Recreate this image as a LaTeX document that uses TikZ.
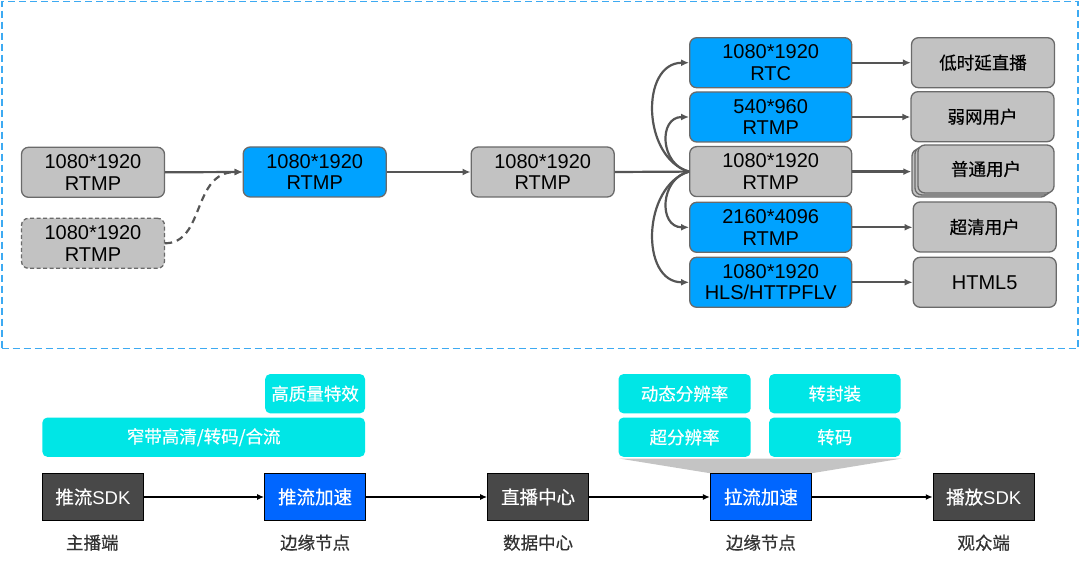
\documentclass[tikz,border=0pt]{standalone}
\usepackage{fontspec}
\setmainfont{Liberation Sans}
\newfontfamily\cjk{Noto Sans CJK SC}
\newfontfamily\cjkm[FakeBold=0.5]{Noto Sans CJK SC}
\usetikzlibrary{arrows.meta}
\definecolor{gfill}{HTML}{C2C2C2}
\definecolor{gline}{HTML}{6A6A6A}
\definecolor{bfill}{HTML}{00A2FF}
\definecolor{arr}{HTML}{555555}
\definecolor{cyanb}{HTML}{00E6E6}
\definecolor{darkb}{HTML}{484848}
\definecolor{blueb}{HTML}{0066FF}
\definecolor{lbl}{HTML}{333333}
\definecolor{frame}{HTML}{3DAAF2}
\definecolor{trap}{HTML}{C4C4C4}
\tikzset{
  topbox/.style={draw=gline, line width=1.3pt, rounded corners=7pt, minimum width=143pt, minimum height=50pt, inner sep=0pt, align=center, font=\fontsize{20}{21.5}\selectfont},
  graybox/.style={topbox, fill=gfill},
  bluebox/.style={topbox, fill=bfill},
  midbox/.style={minimum width=162pt},
  outbox/.style={graybox, font=\fontsize{17.5}{20}\selectfont\cjkm},
  conn/.style={draw=arr, line width=2.2pt, -{Latex[length=8pt,width=7pt]}},
  plain/.style={draw=arr, line width=2.2pt},
  cyanbox/.style={fill=cyanb, rounded corners=5pt, inner sep=0pt, minimum height=39.3pt, text=white, font=\fontsize{17.5}{20}\selectfont\cjkm},
  flowbox/.style={draw=black, line width=0.9pt, inner sep=0pt, minimum width=101pt, minimum height=47.4pt, text=white, font=\fontsize{18.5}{20}\selectfont},
  darkbox/.style={flowbox, fill=darkb},
  bluefbox/.style={flowbox, fill=blueb},
  flowarr/.style={draw=black, line width=1.4pt, -{Latex[length=7pt,width=6pt]}},
  lblnode/.style={text=lbl, font=\fontsize{17.5}{20}\selectfont\cjkm},
}
\begin{document}
\begin{tikzpicture}[x=1pt,y=-1pt]
\useasboundingbox (0,0) rectangle (1080,564);
% frame
\node[draw=frame, line width=1.6pt, dash pattern=on 7pt off 4pt, minimum width=1076pt, minimum height=347pt, inner sep=0pt] (frm) at (539.7,175.2) {};
% left part
\node[graybox] (l1) at (93,172.3) {1080*1920\\RTMP};
\node[graybox, dash pattern=on 4pt off 2.5pt] (l2) at (93,243.3) {1080*1920\\RTMP};
\node[bluebox] (b1) at (314.7,172) {1080*1920\\RTMP};
\node[graybox] (c1) at (542.7,172) {1080*1920\\RTMP};
% middle column
\node[bluebox, midbox] (m1) at (770.7,62.7) {1080*1920\\RTC};
\node[bluebox, midbox] (m2) at (770.7,117) {540*960\\RTMP};
\node[graybox, midbox] (m3) at (770.7,171.6) {1080*1920\\RTMP};
\node[bluebox, midbox] (m4) at (770.7,227.3) {2160*4096\\RTMP};
\node[bluebox, midbox] (m5) at (770.7,282.3) {1080*1920\\HLS/HTTPFLV};
% output column
\node[outbox] (o1) at (983,62.7) {低时延直播};
\node[outbox] (o2) at (982.5,116.7) {弱网用户};
\node[outbox, minimum width=136pt, minimum height=48pt] (o3c) at (980,173) {};
\node[outbox, minimum width=136pt, minimum height=48pt] (o3b) at (983,171) {};
\node[outbox, minimum width=136pt, minimum height=48pt] (o3) at (986,169) {普通用户};
\node[outbox] (o4) at (984.7,227) {超清用户};
\node[outbox, font=\fontsize{20}{22}\selectfont] (o5) at (984.7,282.3) {HTML5};
% connectors
\draw[conn] (l1.east) -- (b1.west);
\draw[conn, dash pattern=on 7pt off 5pt] (l2.east) .. controls (205,243) and (192,172) .. (b1.west);
\draw[conn] (b1.east) -- (c1.west);
\coordinate (sp) at (m3.west);
\draw[plain] (c1.east) -- (sp);
\draw[conn] (sp) .. controls (642,158) and (640,63) .. (m1.west);
\draw[conn] (sp) .. controls (660,165) and (658,117) .. (m2.west);
\draw[conn] (sp) .. controls (660,178) and (658,227.3) .. (m4.west);
\draw[conn] (sp) .. controls (642,186) and (640,282.3) .. (m5.west);
\draw[conn] (m1.east) -- (m1.east -| o1.west);
\draw[conn] (m2.east) -- (m2.east -| o2.west);
\draw[conn] (m3.east) -- (m3.east -| o3c.west);
\draw[conn] (m4.east) -- (m4.east -| o4.west);
\draw[conn] (m5.east) -- (m5.east -| o5.west);
% bottom part
\fill[trap] (619,458.5) -- (902,458.5) -- (811.3,473.3) -- (710.5,473.3) -- cycle;
\node[cyanbox, minimum width=99.8pt] (q1) at (315.1,393.7) {高质量特效};
\node[cyanbox, minimum width=322.6pt] (q2) at (203.7,437.2) {窄带高清/转码/合流};
\node[cyanbox, minimum width=132.2pt] (q3) at (684.6,393.7) {动态分辨率};
\node[cyanbox, minimum width=132.2pt] (q4) at (684.6,437.2) {超分辨率};
\node[cyanbox, minimum width=131.5pt] (q5) at (834.8,393.7) {转封装};
\node[cyanbox, minimum width=131.5pt] (q6) at (834.8,437.2) {转码};
\node[darkbox] (f1) at (92.9,497) {{\cjkm 推流}SDK};
\node[bluefbox] (f2) at (315.1,497) {\cjkm 推流加速};
\node[darkbox] (f3) at (538.1,497) {\cjkm 直播中心};
\node[bluefbox] (f4) at (760.9,497) {\cjkm 拉流加速};
\node[darkbox] (f5) at (983.7,497) {{\cjkm 播放}SDK};
\draw[flowarr] (f1) -- (f2);
\draw[flowarr] (f2) -- (f3);
\draw[flowarr] (f3) -- (f4);
\draw[flowarr] (f4) -- (f5);
\node[lblnode] (t1) at (92.3,542.7) {主播端};
\node[lblnode] (t2) at (315.1,542.7) {边缘节点};
\node[lblnode] (t3) at (538.1,542.7) {数据中心};
\node[lblnode] (t4) at (760.9,542.7) {边缘节点};
\node[lblnode] (t5) at (983.7,542.7) {观众端};
\end{tikzpicture}
\end{document}
